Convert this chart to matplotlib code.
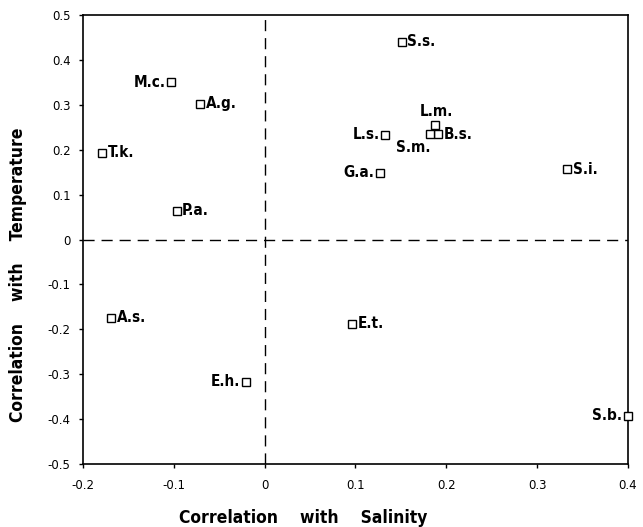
import matplotlib
matplotlib.use("Agg")
import matplotlib.pyplot as plt

names = ["M.c.", "A.g.", "T.k.", "P.a.", "S.s.", "L.m.", "L.s.", "B.s.", "S.m.",
         "G.a.", "S.i.", "A.s.", "E.h.", "E.t.", "S.b."]
salinity = [-0.103, -0.071, -0.179, -0.097, 0.151, 0.188, 0.133, 0.191, 0.182,
            0.127, 0.333, -0.169, -0.021, 0.096, 0.400]
temperature = [0.350, 0.302, 0.193, 0.064, 0.440, 0.255, 0.233, 0.235, 0.235,
               0.149, 0.156, -0.174, -0.317, -0.188, -0.392]
label_side = ["left", "right", "right", "right", "right", "above", "left", "right", "below",
              "left", "right", "right", "left", "right", "left"]
xticks = [-0.2, -0.1, 0, 0.1, 0.2, 0.3, 0.4]
xticklabels = ["-0.2", "-0.1", "0", "0.1", "0.2", "0.3", "0.4"]
yticks = [-0.5, -0.4, -0.3, -0.2, -0.1, 0, 0.1, 0.2, 0.3, 0.4, 0.5]
yticklabels = ["-0.5", "-0.4", "-0.3", "-0.2", "-0.1", "0", "0.1", "0.2", "0.3", "0.4", "0.5"]

fig = plt.figure(figsize=(6.43, 5.27), dpi=100)
ax = fig.add_axes([0.129, 0.1195, 0.8477, 0.852])
ax.set_xlim(-0.2, 0.4)
ax.set_ylim(-0.5, 0.5)
ax.axvline(0, color="black", lw=1.0, ls=(0, (8, 5)))
ax.axhline(0, color="black", lw=1.0, ls=(0, (8, 5)))
ax.plot(salinity, temperature, "s", mfc="white", mec="black", ms=6, mew=1.0, ls="none",
        clip_on=False, zorder=3)

lab_kw = dict(fontweight="bold", family="DejaVu Sans", fontstretch="condensed")
offsets = {"left": (-4, 0, "right", "center"), "right": (4, 0, "left", "center"),
           "above": (1, 4, "center", "bottom"), "below": (-12, -4, "center", "top")}
for n, x, y, side in zip(names, salinity, temperature, label_side):
    dx, dy, ha, va = offsets[side]
    ax.annotate(n, (x, y), xytext=(dx, dy), textcoords="offset points", ha=ha, va=va,
                fontsize=11, **lab_kw)

ax.set_xticks(xticks)
ax.set_xticklabels(xticklabels)
ax.set_yticks(yticks)
ax.set_yticklabels(yticklabels)
ax.tick_params(direction="out", length=3, width=1, labelsize=8.5)
ax.tick_params(axis="x", pad=8)
ax.tick_params(axis="y", pad=6)
for s in ax.spines.values():
    s.set_linewidth(1.2)
fig.text(303 / 643, 1 - 518 / 527, "Correlation    with    Salinity", fontsize=12.5,
         ha="center", va="center", **lab_kw)
fig.text(18 / 643, 1 - 275 / 527, "Correlation    with    Temperature", fontsize=12.5,
         ha="center", va="center", rotation=90, **lab_kw)
fig.savefig("out.png", dpi=100)
